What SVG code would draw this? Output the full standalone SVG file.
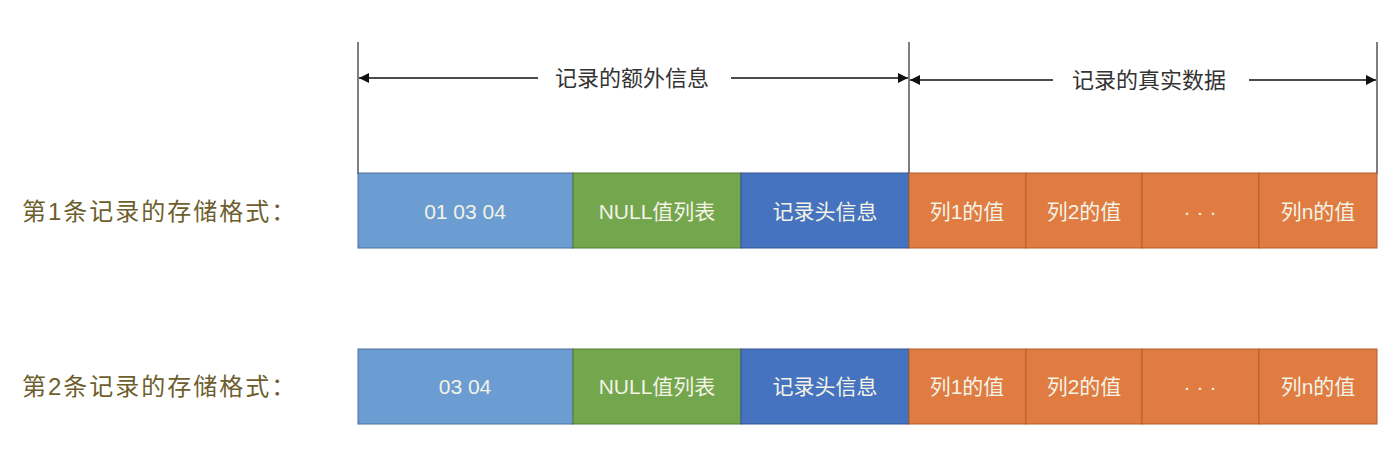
<svg xmlns="http://www.w3.org/2000/svg" width="1398" height="450" viewBox="0 0 1398 450">
<style>
.lbl{font-family:"Liberation Sans","Noto Sans CJK SC",sans-serif;font-size:24px;letter-spacing:2px;fill:#6e5e2e}
.hdr{font-family:"Liberation Sans","Noto Sans CJK SC",sans-serif;font-size:22px;fill:#333;text-anchor:middle}
.bt{font-family:"Liberation Sans","Noto Sans CJK SC",sans-serif;font-size:21px;fill:#f3f3e6;text-anchor:middle;dominant-baseline:central}
.dt{letter-spacing:6px}
.b1{fill:#6c9dd2;stroke:#4d6f96;stroke-width:1}
.g{fill:#73a64d;stroke:#557a39;stroke-width:1}
.b2{fill:#4673c0;stroke:#34558f;stroke-width:1}
.o{fill:#e07c42;stroke:#b35e2d;stroke-width:1}
.ln{stroke:#555;stroke-width:1.5;fill:none}
.ar{stroke:#111;stroke-width:1.5;fill:none}
</style>
<defs>
<marker id="ah" viewBox="0 0 10 10" refX="10" refY="5" markerWidth="11" markerHeight="10" markerUnits="userSpaceOnUse" orient="auto-start-reverse">
<path d="M0,0 L10,5 L0,10 z" fill="#111"/>
</marker>
</defs>
<rect width="1398" height="450" fill="#fff"/>
<g id="connectors">
<line class="ln" x1="358" y1="42" x2="358" y2="174"/>
<line class="ln" x1="909" y1="42" x2="909" y2="174"/>
<line class="ln" x1="1377" y1="42" x2="1377" y2="174"/>
<line class="ar" x1="359" y1="78" x2="538" y2="78" marker-start="url(#ah)"/>
<line class="ar" x1="731" y1="78" x2="908" y2="78" marker-end="url(#ah)"/>
<line class="ar" x1="910" y1="80" x2="1053" y2="80" marker-start="url(#ah)"/>
<line class="ar" x1="1249" y1="80" x2="1376" y2="80" marker-end="url(#ah)"/>
</g>
<g id="header1"><text class="hdr" x="632" y="86">记录的额外信息</text></g>
<g id="header2"><text class="hdr" x="1149" y="88">记录的真实数据</text></g>
<g id="label1"><text class="lbl" x="22" y="220">第1条记录的存储格式：</text></g>
<g id="label2"><text class="lbl" x="22" y="395">第2条记录的存储格式：</text></g>
<g id="row1">
<g id="r1-prefix"><rect class="b1" x="358" y="173" width="215" height="75"/><text class="bt" x="465" y="211">01 03 04</text></g>
<g id="r1-null"><rect class="g" x="573" y="173" width="168" height="75"/><text class="bt" x="657" y="211">NULL值列表</text></g>
<g id="r1-head"><rect class="b2" x="741" y="173" width="168" height="75"/><text class="bt" x="825" y="211">记录头信息</text></g>
<g id="r1-c1"><rect class="o" x="909" y="173" width="117" height="75"/><text class="bt" x="967" y="211">列1的值</text></g>
<g id="r1-c2"><rect class="o" x="1026" y="173" width="116" height="75"/><text class="bt" x="1084" y="211">列2的值</text></g>
<g id="r1-dots"><rect class="o" x="1142" y="173" width="117" height="75"/><text class="bt dt" x="1203" y="211">···</text></g>
<g id="r1-cn"><rect class="o" x="1259" y="173" width="118" height="75"/><text class="bt" x="1318" y="211">列n的值</text></g>
</g>
<g id="row2">
<g id="r2-prefix"><rect class="b1" x="358" y="349" width="215" height="75"/><text class="bt" x="465" y="386">03 04</text></g>
<g id="r2-null"><rect class="g" x="573" y="349" width="168" height="75"/><text class="bt" x="657" y="386">NULL值列表</text></g>
<g id="r2-head"><rect class="b2" x="741" y="349" width="168" height="75"/><text class="bt" x="825" y="386">记录头信息</text></g>
<g id="r2-c1"><rect class="o" x="909" y="349" width="117" height="75"/><text class="bt" x="967" y="386">列1的值</text></g>
<g id="r2-c2"><rect class="o" x="1026" y="349" width="116" height="75"/><text class="bt" x="1084" y="386">列2的值</text></g>
<g id="r2-dots"><rect class="o" x="1142" y="349" width="117" height="75"/><text class="bt dt" x="1203" y="386">···</text></g>
<g id="r2-cn"><rect class="o" x="1259" y="349" width="118" height="75"/><text class="bt" x="1318" y="386">列n的值</text></g>
</g>
</svg>
